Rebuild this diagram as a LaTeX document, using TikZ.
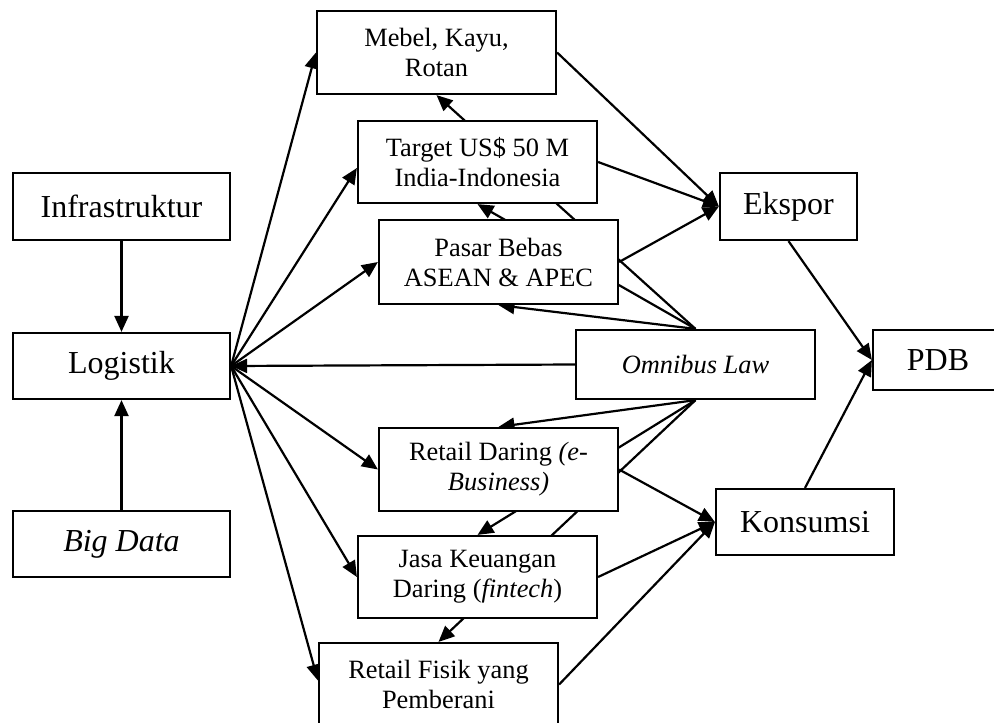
\documentclass[tikz,border=0pt]{standalone}
\usepackage{fontspec}
\setmainfont{Liberation Serif}
\usetikzlibrary{arrows.meta,backgrounds}
\begin{document}
\begin{tikzpicture}[x=0.5pt,y=-0.5pt,
  box/.style={draw, fill=white, line width=1.1pt, inner sep=0pt, align=center},
  big/.style={box, font=\fontsize{16}{19}\selectfont},
  small/.style={box, font=\fontsize{13.2}{15}\selectfont},
  arr/.style={line width=1.1pt, -{Triangle[length=8pt,width=7pt]}}]
\useasboundingbox (0,0) rectangle (994,722);
% left column
\node[big, minimum width=108.5pt, minimum height=33.5pt] (inf) at (121.5,206.5) {Infrastruktur};
\node[big, minimum width=108.5pt, minimum height=33pt] (log) at (121.5,366) {Logistik};
\node[big, minimum width=108.5pt, minimum height=33pt] (bd) at (121.5,544) {\textit{Big Data}};
% middle column
\node[small, minimum width=119.5pt, minimum height=41.5pt] (meb) at (436.5,52.5) {Mebel, Kayu,\\Rotan};
\node[small, minimum width=119.5pt, minimum height=41pt] (tgt) at (477.5,162) {Target US\$ 50 M\\India-Indonesia};
\node[small, minimum width=119.5pt, minimum height=42pt] (pas) at (498.5,262) {Pasar Bebas\\ASEAN \& APEC};
\node[small, minimum width=119.5pt, minimum height=34.5pt] (omn) at (695.5,364.5) {\textit{Omnibus Law}};
\node[small, minimum width=119.5pt, minimum height=41.5pt] (rd) at (498.5,469.5) {Retail Daring \textit{(e-}\\\textit{Business)}};
\node[small, minimum width=119.5pt, minimum height=41pt] (jk) at (477.5,577) {Jasa Keuangan\\Daring (\textit{fintech})};
\node[small, minimum width=119.5pt, minimum height=41.5pt] (rf) at (438.5,684.5) {Retail Fisik yang\\Pemberani};
% right column
\node[big, minimum width=68.5pt, minimum height=33.5pt] (eks) at (788.5,206.5) {Ekspor};
\node[big, minimum width=89pt, minimum height=33pt] (kon) at (805,522) {Konsumsi};
\node[big, minimum width=65pt, minimum height=30pt] (pdb) at (938,360) {PDB};

\begin{scope}[on background layer]
  \draw[arr] (inf) -- (log);
  \draw[arr] (bd) -- (log);
  \draw[arr] (log.east) -- (meb.west);
  \draw[arr] (log.east) -- ([yshift=-3pt]tgt.west);
  \draw[arr] (log.east) -- (pas.west);
  \draw[arr] (omn.west) -- (log.east);
  \draw[arr] (log.east) -- (rd.west);
  \draw[arr] (log.east) -- (jk.west);
  \draw[arr] (log.east) -- ([yshift=2pt]rf.west);
  \draw[arr] (omn.north) -- (meb.south);
  \draw[arr] (omn.north) -- (tgt.south);
  \draw[arr] (omn.north) -- (pas.south);
  \draw[arr] (omn.south) -- (rd.north);
  \draw[arr] (omn.south) -- (jk.north);
  \draw[arr] (omn.south) -- (rf.north);
  \draw[arr] (meb.east) -- (eks.west);
  \draw[arr] (tgt.east) -- (eks.west);
  \draw[arr] (pas.east) -- (eks.west);
  \draw[arr] (rd.east) -- (kon.west);
  \draw[arr] (jk.east) -- (kon.west);
  \draw[arr] (rf.east) -- (kon.west);
  \draw[arr] (eks.south) -- (pdb.west);
  \draw[arr] (kon.north) -- (pdb.west);
\end{scope}
\end{tikzpicture}
\end{document}
